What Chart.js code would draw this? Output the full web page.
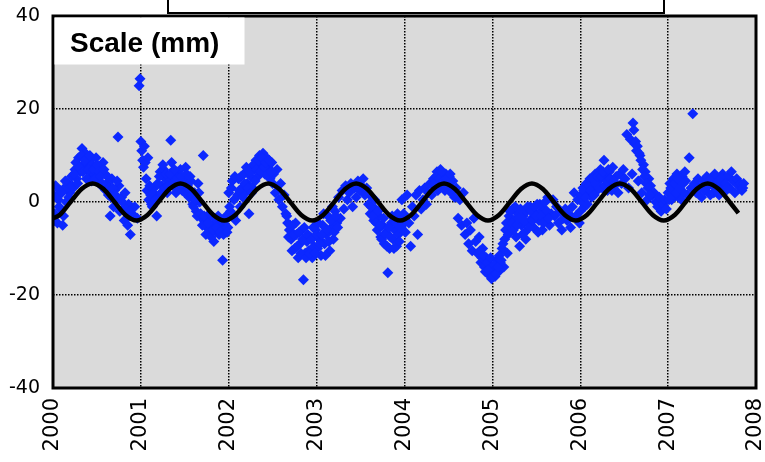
<!DOCTYPE html>
<html>
<head>
<meta charset="utf-8">
<script src="https://cdn.jsdelivr.net/npm/chart.js@4.4.0/dist/chart.umd.min.js"></script>
<style>
html,body{margin:0;padding:0;background:#fff;}
#wrap{width:765px;height:462px;position:relative;}
</style>
</head>
<body>
<div id="wrap"><canvas id="c" width="765" height="462"></canvas></div>
<script>
const xTicks = [2000, 2001, 2002, 2003, 2004, 2005, 2006, 2007, 2008];
const yTicks = [-40, -20, 0, 20, 40];
const panelLabel = 'Scale (mm)';

const obsYear = [
  2000.01,2000.02,2000.03,2000.05,2000.06,2000.08,2000.09,2000.11,2000.13,2000.15,
  2000.17,2000.19,2000.21,2000.23,2000.25,2000.27,2000.29,2000.31,2000.33,2000.35,
  2000.37,2000.39,2000.41,2000.43,2000.45,2000.47,2000.49,2000.51,2000.53,2000.55,
  2000.57,2000.59,2000.61,2000.63,2000.65,2000.67,2000.70,2000.72,2000.74,2000.75,
  2000.78,2000.80,2000.82,2000.84,2000.86,2000.88,2000.90,2000.93,2000.96,2000.98,
  2000.99,2001.00,2001.01,2001.02,2001.03,2001.04,2001.05,2001.07,2001.09,2001.11,
  2001.13,2001.15,2001.18,2001.20,2001.22,2001.24,2001.26,2001.28,2001.30,2001.32,
  2001.34,2001.35,2001.37,2001.39,2001.41,2001.43,2001.45,2001.47,2001.49,2001.51,
  2001.53,2001.55,2001.57,2001.59,2001.61,2001.63,2001.65,2001.67,2001.69,2001.71,
  2001.73,2001.75,2001.77,2001.79,2001.81,2001.83,2001.85,2001.87,2001.89,2001.91,
  2001.93,2001.95,2001.97,2001.99,2002.00,2002.02,2002.04,2002.06,2002.08,2002.10,
  2002.11,2002.13,2002.15,2002.17,2002.19,2002.21,2002.23,2002.25,2002.27,2002.29,
  2002.31,2002.33,2002.35,2002.37,2002.39,2002.41,2002.43,2002.45,2002.47,2002.49,
  2002.51,2002.53,2002.55,2002.57,2002.59,2002.61,2002.63,2002.65,2002.67,2002.69,
  2002.71,2002.73,2002.75,2002.77,2002.79,2002.81,2002.83,2002.85,2002.87,2002.89,
  2002.91,2002.93,2002.95,2002.97,2002.99,2003.01,2003.03,2003.05,2003.07,2003.09,
  2003.11,2003.13,2003.15,2003.17,2003.19,2003.21,2003.23,2003.25,2003.27,2003.29,
  2003.31,2003.33,2003.35,2003.37,2003.39,2003.41,2003.43,2003.45,2003.47,2003.49,
  2003.51,2003.53,2003.55,2003.57,2003.59,2003.61,2003.63,2003.65,2003.67,2003.69,
  2003.71,2003.73,2003.75,2003.77,2003.79,2003.81,2003.83,2003.85,2003.87,2003.89,
  2003.91,2003.93,2003.95,2003.97,2003.99,2004.01,2004.03,2004.05,2004.07,2004.09,
  2004.11,2004.13,2004.15,2004.17,2004.19,2004.21,2004.23,2004.25,2004.27,2004.29,
  2004.31,2004.33,2004.35,2004.37,2004.39,2004.41,2004.43,2004.45,2004.47,2004.49,
  2004.51,2004.53,2004.55,2004.57,2004.59,2004.61,2004.63,2004.65,2004.67,2004.69,
  2004.71,2004.73,2004.75,2004.77,2004.79,2004.81,2004.83,2004.85,2004.87,2004.89,
  2004.91,2004.93,2004.95,2004.97,2004.99,2005.01,2005.03,2005.05,2005.07,2005.09,
  2005.11,2005.13,2005.15,2005.17,2005.19,2005.21,2005.23,2005.25,2005.27,2005.29,
  2005.31,2005.33,2005.35,2005.37,2005.39,2005.41,2005.43,2005.45,2005.47,2005.49,
  2005.51,2005.53,2005.55,2005.57,2005.59,2005.61,2005.63,2005.65,2005.67,2005.69,
  2005.71,2005.73,2005.75,2005.77,2005.79,2005.81,2005.83,2005.85,2005.87,2005.89,
  2005.91,2005.93,2005.95,2005.97,2005.99,2006.01,2006.03,2006.05,2006.07,2006.09,
  2006.11,2006.13,2006.15,2006.17,2006.19,2006.21,2006.23,2006.25,2006.27,2006.29,
  2006.31,2006.33,2006.35,2006.37,2006.39,2006.41,2006.43,2006.45,2006.47,2006.49,
  2006.51,2006.53,2006.55,2006.57,2006.59,2006.60,2006.62,2006.64,2006.66,2006.68,
  2006.70,2006.72,2006.74,2006.76,2006.78,2006.80,2006.82,2006.84,2006.86,2006.88,
  2006.90,2006.92,2006.94,2006.96,2006.98,2007.00,2007.02,2007.04,2007.06,2007.08,
  2007.10,2007.12,2007.14,2007.16,2007.18,2007.20,2007.22,2007.24,2007.26,2007.28,
  2007.30,2007.32,2007.34,2007.36,2007.38,2007.40,2007.42,2007.44,2007.46,2007.48,
  2007.50,2007.52,2007.54,2007.56,2007.58,2007.60,2007.62,2007.64,2007.66,2007.68,
  2007.70,2007.72,2007.74,2007.76,2007.78,2007.80,2007.82,2007.84,2007.85,2007.86,
  2000.02,2000.04,2000.07,2000.10,2000.12,2000.14,2000.18,2000.22,2000.24,2000.26,
  2000.28,2000.30,2000.32,2000.34,2000.36,2000.38,2000.40,2000.42,2000.44,2000.46,
  2000.48,2000.50,2000.52,2000.54,2000.56,2000.58,2000.60,2000.62,2000.64,2000.66,
  2000.68,2000.69,2000.71,2000.73,2000.76,2000.79,2000.81,2000.83,2000.85,2000.87,
  2001.06,2001.08,2001.10,2001.12,2001.14,2001.16,2001.19,2001.21,2001.23,2001.25,
  2001.27,2001.29,2001.31,2001.33,2001.36,2001.38,2001.40,2001.42,2001.44,2001.46,
  2001.48,2001.50,2001.52,2001.54,2001.56,2001.58,2001.60,2001.62,2001.64,2001.66,
  2001.68,2001.70,2001.72,2001.74,2001.76,2001.78,2001.80,2001.82,2001.84,2001.86,
  2001.88,2001.90,2001.92,2001.94,2001.96,2001.98,2002.01,2002.03,2002.05,2002.07,
  2002.12,2002.14,2002.16,2002.18,2002.20,2002.22,2002.24,2002.26,2002.28,2002.30,
  2002.32,2002.34,2002.36,2002.38,2002.40,2002.42,2002.44,2002.46,2002.48,2002.50,
  2002.66,2002.68,2002.70,2002.72,2002.74,2002.76,2002.78,2002.80,2002.82,2002.84,
  2002.86,2002.88,2002.90,2002.92,2002.94,2002.96,2002.98,2003.00,2003.02,2003.04,
  2003.06,2003.08,2003.10,2003.12,2003.14,2003.16,2003.18,2003.20,2003.22,2003.24,
  2003.62,2003.64,2003.66,2003.68,2003.70,2003.72,2003.74,2003.76,2003.78,2003.80,
  2003.82,2003.84,2003.86,2003.88,2003.90,2003.92,2003.94,2003.96,2003.98,2004.00,
  2004.34,2004.36,2004.38,2004.40,2004.42,2004.44,2004.46,2004.48,2004.50,2004.52,
  2004.86,2004.88,2004.90,2004.92,2004.94,2004.96,2004.98,2005.00,2005.02,2005.04,
  2005.06,2005.08,2005.10,2005.12,2005.14,2005.16,2005.18,2005.20,2005.22,2005.24,
  2005.26,2005.28,2005.30,2005.32,2005.34,2005.36,2005.38,2005.40,2005.42,2005.44,
  2005.46,2005.48,2005.50,2005.52,2005.54,2005.56,2005.58,2005.60,2005.62,2005.64,
  2006.00,2006.02,2006.04,2006.06,2006.08,2006.10,2006.12,2006.14,2006.16,2006.18,
  2006.20,2006.22,2006.24,2006.26,2006.28,2006.30,2006.32,2006.34,2006.36,2006.38,
  2006.61,2006.63,2006.65,2006.67,2006.69,2006.71,2006.73,2006.75,2006.77,2006.79,
  2007.01,2007.03,2007.05,2007.07,2007.09,2007.11,2007.13,2007.15,2007.17,2007.19,
  2007.49,2007.51,2007.53,2007.55,2007.57,2007.59,2007.61,2007.63,2007.65,2007.67
];
const obsMm = [
  1.5,-2.5,3.5,-4.5,0.5,2.5,-1.5,-5.0,3.0,0.0,
  4.0,2.0,5.5,3.0,7.0,5.0,9.5,6.5,11.5,8.0,
  10.5,7.0,9.0,5.5,8.0,6.0,9.5,4.5,7.5,3.5,
  8.5,6.0,4.0,1.5,-3.0,5.0,2.5,0.5,14.0,3.5,
  1.0,-1.5,2.0,-3.5,-0.5,-7.0,-2.5,-1.0,-3.5,25.0,
  26.5,13.0,11.0,9.0,7.5,12.0,8.5,2.5,0.5,1.5,
  -1.0,3.0,-3.0,1.0,6.5,3.5,7.0,5.0,2.0,4.5,
  13.3,8.5,5.5,3.0,6.5,4.0,7.0,2.5,5.0,7.5,
  3.5,1.0,4.5,-0.5,2.0,-2.0,4.0,0.0,-3.5,10.0,
  -4.5,-5.5,-3.5,-6.5,-5.0,-8.5,-6.0,-4.0,-7.0,-5.0,
  -12.5,-6.0,-3.0,-5.5,2.0,-2.0,4.5,0.5,-4.0,1.5,
  5.0,-1.0,3.0,6.0,2.0,4.0,-2.5,5.5,3.0,7.0,
  9.0,5.5,10.0,8.0,10.5,6.0,9.5,7.5,5.0,8.5,
  6.0,2.0,7.0,0.5,4.0,-1.0,1.5,-2.5,-4.5,-6.0,
  -8.0,-5.0,-10.0,-7.0,-12.0,-9.0,-6.0,-16.7,-11.0,-8.5,
  -10.5,-7.5,-12.0,-9.5,-6.0,-10.0,-8.0,-11.5,-5.0,-9.0,
  -7.0,-3.0,-10.5,-5.5,-8.0,-2.0,-4.5,1.0,-3.5,2.5,
  -1.5,3.5,0.5,2.0,4.0,-1.0,3.0,1.0,4.5,2.5,
  3.5,5.0,1.5,3.0,-0.5,-2.5,1.0,-4.0,-1.5,-6.0,
  -3.0,-7.5,-5.0,-9.0,-6.5,-15.2,-10.0,-4.5,-8.0,-6.0,
  -9.5,-7.0,-4.0,0.5,-2.5,-6.5,1.5,-4.5,-9.5,-1.0,
  -3.0,1.5,-7.0,2.5,-1.5,0.5,3.0,-0.5,2.0,4.0,
  1.5,5.0,3.0,6.5,4.5,7.0,5.5,3.0,6.0,4.0,
  5.5,2.0,4.5,1.0,3.0,-3.5,0.5,-5.0,2.0,-7.0,
  -4.5,-9.0,-6.0,-10.5,-3.5,-8.5,-11.0,-7.5,-13.0,-10.0,
  -14.0,-12.0,-15.5,-13.5,-16.5,-14.5,-16.0,-12.5,-15.0,-13.0,
  -10.0,-14.0,-6.0,-11.0,-3.0,-5.5,-1.5,-4.0,-7.5,-2.5,
  -9.5,-5.0,-3.0,-6.5,-2.0,-4.5,-1.0,-3.5,-5.5,-2.5,
  -0.5,-4.0,-2.0,-6.0,-1.5,-3.5,1.0,-5.0,-2.5,0.5,
  -3.0,-1.0,-4.5,-2.0,-6.0,-3.5,-1.5,-4.0,-2.5,-5.5,
  -1.0,2.0,-3.0,0.5,-4.5,1.5,3.0,-1.0,4.0,2.0,
  5.0,1.0,3.5,6.0,2.5,4.5,7.0,3.0,9.0,5.5,
  2.5,6.5,4.0,7.5,3.5,5.5,2.0,6.0,4.0,7.0,
  5.0,14.5,3.0,13.5,6.0,17.0,12.5,11.0,4.5,10.0,
  2.0,8.0,6.5,0.5,5.0,3.5,1.5,2.0,0.0,-1.0,
  1.0,-2.0,-0.5,0.5,-1.5,2.0,4.0,0.5,5.0,2.5,
  6.0,1.0,3.5,5.5,2.0,4.5,1.5,9.5,3.0,19.0,
  4.0,2.0,5.0,3.0,1.0,4.5,2.5,5.5,3.5,1.5,
  4.0,2.0,3.0,5.0,1.5,3.5,6.0,4.0,2.5,5.5,
  3.0,6.5,4.5,2.0,5.0,3.5,4.0,2.5,3.0,4.0,
  -4.0,1.0,-1.0,2.0,-3.0,4.5,1.0,3.5,6.0,8.5,
  4.0,7.5,10.0,6.5,9.0,5.0,7.0,10.0,4.5,7.0,
  5.0,8.0,6.5,5.5,4.0,7.0,2.5,5.5,3.0,1.0,
  3.0,-1.0,1.5,4.5,-2.0,0.0,-4.0,-1.5,-5.0,-2.0,
  5.0,9.5,3.5,-0.5,2.0,0.5,4.0,5.5,2.0,8.0,
  3.0,6.0,3.5,6.0,4.0,7.0,2.0,5.0,3.0,5.5,
  4.0,2.0,6.0,3.0,5.5,1.5,-1.0,0.5,-3.0,2.0,
  -2.5,-5.0,-3.0,-7.0,-4.5,-2.5,-7.5,-6.0,-3.5,-5.5,
  -3.0,-6.5,-4.0,-7.0,-4.0,-6.5,-1.0,3.0,-3.0,5.5,
  2.5,5.5,1.0,4.0,7.5,3.0,6.5,2.0,8.0,4.5,
  7.0,9.0,6.5,9.5,7.5,8.5,6.0,9.0,6.5,4.0,
  -3.0,-7.5,-5.0,-10.5,-7.0,-4.5,-9.5,-6.5,-11.0,-8.0,
  -5.5,-12.0,-7.0,-11.0,-8.0,-5.5,-11.0,-7.0,-4.5,-9.0,
  -7.0,-2.5,-11.5,-6.0,-8.5,-4.0,-1.0,-6.5,-3.0,-5.5,
  -1.0,-3.0,0.5,-4.5,-2.0,-5.0,-8.0,-3.5,-7.0,-9.5,
  -5.5,-7.5,-3.0,-10.0,-4.5,-2.5,-8.5,-5.5,-3.5,-4.5,
  4.0,5.5,2.5,5.0,6.5,4.5,2.5,5.0,3.0,6.0,
  -10.5,-12.0,-11.5,-15.0,-13.0,-14.5,-12.0,-16.0,-13.5,-15.5,
  -14.0,-11.5,-12.5,-9.0,-8.0,-4.5,-7.0,-2.0,-4.5,-6.0,
  -1.0,-5.0,-3.5,-1.5,-7.0,-4.0,-8.0,-1.0,-5.5,-2.0,
  -4.0,-1.0,-3.0,-6.5,-0.5,-3.0,-4.5,0.0,-2.0,-3.5,
  -2.0,0.0,2.5,1.0,-0.5,3.5,2.5,5.0,1.5,4.0,
  5.5,3.0,5.5,6.5,3.5,4.5,7.0,5.0,2.5,4.5,
  15.5,13.0,12.0,10.5,9.0,7.0,5.5,4.0,3.0,1.5,
  0.5,3.0,1.5,4.0,2.0,5.0,3.0,0.5,4.0,6.5,
  5.0,3.5,6.0,2.5,4.5,2.0,5.0,2.5,4.0,3.0
];

const fitYear = [
  2000.000,2000.075,2000.200,2000.325,2000.450,2000.575,2000.700,2000.825,2000.950,
  2001.075,2001.200,2001.325,2001.450,2001.575,2001.700,2001.825,2001.950,
  2002.075,2002.200,2002.325,2002.450,2002.575,2002.700,2002.825,2002.950,
  2003.075,2003.200,2003.325,2003.450,2003.575,2003.700,2003.825,2003.950,
  2004.075,2004.200,2004.325,2004.450,2004.575,2004.700,2004.825,2004.950,
  2005.075,2005.200,2005.325,2005.450,2005.575,2005.700,2005.825,2005.950,
  2006.075,2006.200,2006.325,2006.450,2006.575,2006.700,2006.825,2006.950,
  2007.075,2007.200,2007.325,2007.450,2007.575,2007.700,2007.800
];
const fitMm = [
  -3.5,-2.8,0,2.8,4,2.8,0,-2.8,-4,
  -2.8,0,2.8,4,2.8,0,-2.8,-4,
  -2.8,0,2.8,4,2.8,0,-2.8,-4,
  -2.8,0,2.8,4,2.8,0,-2.8,-4,
  -2.8,0,2.8,4,2.8,0,-2.8,-4,
  -2.8,0,2.8,4,2.8,0,-2.8,-4,
  -2.8,0,2.8,4,2.8,0,-2.8,-4,
  -2.8,0,2.8,4,2.8,0,-2.4
];

const obsPoints = obsYear.map((t, i) => ({ x: t, y: obsMm[i] }));
const fitPoints = fitYear.map((t, i) => ({ x: t, y: fitMm[i] }));

const decor = {
  id: 'decor',
  beforeDraw(chart) {
    const { ctx, chartArea: a } = chart;
    ctx.save();
    ctx.fillStyle = '#dadada';
    ctx.fillRect(a.left, a.top, a.right - a.left, a.bottom - a.top);
    ctx.restore();
  },
  afterDraw(chart) {
    const { ctx, chartArea: a } = chart;
    ctx.save();
    ctx.strokeStyle = '#000';
    ctx.lineWidth = 3;
    ctx.strokeRect(a.left, a.top, a.right - a.left, a.bottom - a.top);
    ctx.fillStyle = '#fff';
    ctx.fillRect(168, -4, 496, 17);
    ctx.lineWidth = 2;
    ctx.strokeRect(168, -4, 496, 17);
    ctx.fillStyle = '#fff';
    ctx.fillRect(a.left + 1.5, a.top + 1.5, 190, 47);
    ctx.fillStyle = '#000';
    ctx.font = 'bold 28px "Liberation Sans", Arial, sans-serif';
    ctx.textBaseline = 'alphabetic';
    ctx.fillText(panelLabel, 70, 52);
    ctx.restore();
  }
};

new Chart(document.getElementById('c'), {
  type: 'scatter',
  data: {
    datasets: [
      {
        label: 'fit',
        data: fitPoints,
        showLine: true,
        borderColor: '#000',
        borderWidth: 4.5,
        pointRadius: 0,
        cubicInterpolationMode: 'monotone',
        order: 0
      },
      {
        label: 'obs',
        data: obsPoints,
        pointStyle: 'rectRot',
        pointRadius: 5.5,
        pointBorderWidth: 0,
        backgroundColor: 'rgb(12,40,255)',
        borderColor: 'rgb(12,40,255)',
        order: 1
      }
    ]
  },
  options: {
    responsive: false,
    animation: false,
    layout: { padding: { top: 16, right: 9, left: 0, bottom: 0 } },
    plugins: { legend: { display: false }, tooltip: { enabled: false } },
    scales: {
      x: {
        type: 'linear',
        min: xTicks[0],
        max: xTicks[xTicks.length - 1],
        afterBuildTicks(s) { s.ticks = xTicks.map(v => ({ value: v })); },
        afterFit(s) { s.height = 74; s.paddingLeft = 0; s.paddingRight = 0; },
        border: { display: false, dash: [1.5, 1.5] },
        grid: { color: '#000', lineWidth: 1.5, drawTicks: false },
        ticks: {
          minRotation: 90, maxRotation: 90, padding: 10,
          color: '#000',
          font: { family: '"DejaVu Sans", sans-serif', size: 21 },
          callback: v => String(v)
        }
      },
      y: {
        type: 'linear',
        min: yTicks[0],
        max: yTicks[yTicks.length - 1],
        afterBuildTicks(s) { s.ticks = yTicks.map(v => ({ value: v })); },
        afterFit(s) { s.width = 53; s.paddingTop = 0; s.paddingBottom = 0; },
        border: { display: false, dash: [1.5, 1.5] },
        grid: { color: '#000', lineWidth: 1.5, drawTicks: false },
        ticks: {
          padding: 13,
          color: '#000',
          font: { family: '"DejaVu Sans", sans-serif', size: 19 },
          callback: v => String(v)
        }
      }
    }
  },
  plugins: [decor]
});
</script>
</body>
</html>
